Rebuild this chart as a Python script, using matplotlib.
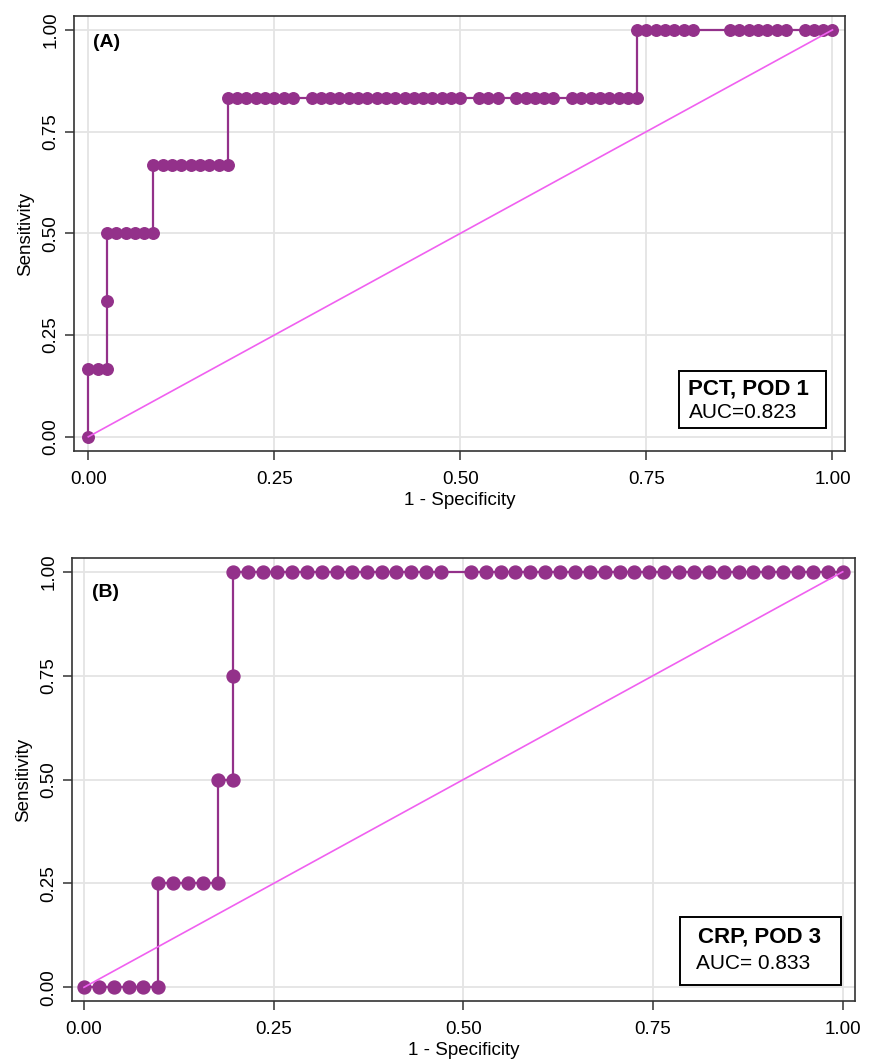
import numpy as np
import matplotlib
matplotlib.use('Agg')
import matplotlib.pyplot as plt
from matplotlib.patches import Rectangle

plt.rcParams['font.family'] = ['Liberation Sans', 'DejaVu Sans']

# panel A: PCT, POD 1 -- false positive counts (out of 80) at each sensitivity level
a_n_neg = 80
a_levels = [0.0, 0.167, 0.333, 0.5, 0.667, 0.833, 1.0]
a_counts = [
    [0],
    [0, 1, 2],
    [2],
    [2, 3, 4, 5, 6, 7],
    [7, 8, 9, 10, 11, 12, 13, 14, 15],
    [15, 16, 17, 18, 19, 20, 21, 22, 24, 25, 26, 27, 28, 29, 30, 31, 32, 33,
     34, 35, 36, 37, 38, 39, 40, 42, 43, 44, 46, 47, 48, 49, 50, 52, 53, 54,
     55, 56, 57, 58, 59],
    [59, 60, 61, 62, 63, 64, 65, 69, 70, 71, 72, 73, 74, 75, 77, 78, 79, 80],
]

# panel B: CRP, POD 3 -- false positive counts (out of 51)
b_n_neg = 51
b_levels = [0.0, 0.25, 0.5, 0.75, 1.0]
b_counts = [
    [0, 1, 2, 3, 4, 5],
    [5, 6, 7, 8, 9],
    [9, 10],
    [10],
    [10, 11, 12, 13, 14, 15, 16, 17, 18, 19, 20, 21, 22, 23, 24, 26, 27, 28,
     29, 30, 31, 32, 33, 34, 35, 36, 37, 38, 39, 40, 41, 42, 43, 44, 45, 46,
     47, 48, 49, 50, 51],
]

ticks = [0, 0.25, 0.5, 0.75, 1.0]
tick_labels = ['0.00', '0.25', '0.50', '0.75', '1.00']

PURPLE = '#93318A'
PINK = '#F060F0'


def roc_points(levels, counts, n_neg):
    xs, ys = [], []
    for lev, cs in zip(levels, counts):
        for c in cs:
            xs.append(c / n_neg)
            ys.append(lev)
    return np.array(xs), np.array(ys)


def draw_panel(ax, levels, counts, n_neg, letter, title, auc, box, text_x,
               text_y, letter_y, ms, xlim, ylim):
    x, y = roc_points(levels, counts, n_neg)
    ax.plot(x, y, '-', color=PURPLE, lw=1.6, marker='o', ms=ms,
            markerfacecolor=PURPLE, markeredgecolor=PURPLE, zorder=3)
    ax.plot([0, 1], [0, 1], color=PINK, lw=1.2, zorder=4)
    ax.set_xlim(*xlim)
    ax.set_ylim(*ylim)
    ax.set_xticks(ticks)
    ax.set_xticklabels(tick_labels, fontsize=13.5)
    ax.set_yticks(ticks)
    ax.set_yticklabels(tick_labels, fontsize=13.5, rotation=90, va='center')
    ax.grid(True, color='#e4e4e4', lw=1.3)
    ax.set_axisbelow(True)
    ax.tick_params(direction='out', length=6.5, width=1.1, color='#333333')
    ax.tick_params(axis='x', pad=8)
    ax.tick_params(axis='y', pad=4)
    for s in ax.spines.values():
        s.set_color('#333333')
        s.set_linewidth(1.2)
    ax.set_xlabel('1 - Specificity', fontsize=13.5, labelpad=3)
    ax.set_ylabel('Sensitivity', fontsize=13.5, labelpad=6)
    ax.text(0.025, letter_y, letter, transform=ax.transAxes, fontsize=14,
            fontweight='bold', va='center', ha='left')
    x0, y0, x1, y1 = box
    ax.add_patch(Rectangle((x0, y0), x1 - x0, y1 - y0, transform=ax.transAxes,
                           facecolor='white', edgecolor='black', lw=1.4, zorder=5))
    ax.text(text_x[0], y0 + text_y[0] * (y1 - y0), title, transform=ax.transAxes,
            fontsize=16, fontweight='bold', va='center', ha='left', zorder=6)
    ax.text(text_x[1], y0 + text_y[1] * (y1 - y0), auc, transform=ax.transAxes,
            fontsize=15, va='center', ha='left', zorder=6)


fig = plt.figure(figsize=(8.77, 10.63), dpi=100)
ax1 = fig.add_axes([0.0844, 0.5757, 0.8791, 0.4092])
ax2 = fig.add_axes([0.0821, 0.0583, 0.8928, 0.4167])

draw_panel(ax1, a_levels, a_counts, a_n_neg, '(A)', 'PCT, POD 1', 'AUC=0.823',
           (0.785, 0.053, 0.975, 0.185), (0.796, 0.798), (0.68, 0.27), 0.94, 8.3,
           (-0.0192, 1.0168), (-0.035, 1.034))
draw_panel(ax2, b_levels, b_counts, b_n_neg, '(B)', 'CRP, POD 3', 'AUC= 0.833',
           (0.777, 0.036, 0.982, 0.190), (0.800, 0.797), (0.70, 0.32), 0.923, 9.3,
           (-0.0158, 1.0162), (-0.033, 1.033))

fig.savefig('out.png', dpi=100)
